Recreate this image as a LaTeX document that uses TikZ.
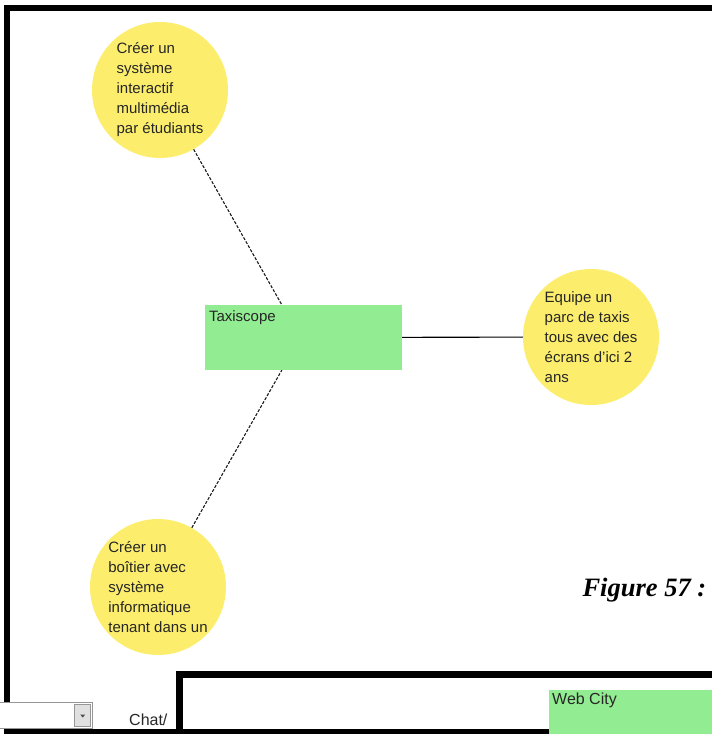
\documentclass[tikz,border=0pt]{standalone}
\usepackage{fontspec}
\setmainfont{Liberation Sans}
\newfontfamily\capfont{Liberation Serif}
\usetikzlibrary{calc, positioning}
\definecolor{bubble}{RGB}{252,238,108}
\definecolor{projectbox}{RGB}{146,236,146}
\definecolor{comboedge}{RGB}{150,150,150}

\begin{document}
\begin{tikzpicture}[x=1pt, y=-1pt,
    goal/.style={
        circle, fill=bubble, minimum size=136pt, inner sep=0pt,
        font=\fontsize{15}{20}\selectfont, align=left, text=black!85
    },
    project/.style={
        rectangle, fill=projectbox, inner sep=0pt
    },
    tag/.style={font=\fontsize{15}{18}\selectfont, text=black!85, inner sep=0pt},
    link/.style={draw=black!90, line width=1.1pt, dash pattern=on 3pt off 1.6pt},
    wire/.style={draw=black, line width=1.1pt},
    frame/.style={draw=black, line width=6pt}
]
\useasboundingbox (0,0) rectangle (712,734);
\clip (0,0) rectangle (712,734);

% Goals
\node[goal] (g1) at (160,90) {Créer un\\système\\interactif\\multimédia\\par étudiants};
\node[goal] (g2) at (591,337) {Equipe un\\parc de taxis\\tous avec des\\écrans d'ici 2\\ans};
\node[goal] (g3) at (158,587) {Créer un\\boîtier avec\\système\\informatique\\tenant dans un};

% Project
\node[project, minimum width=197pt, minimum height=65pt,
      label={[tag, anchor=north west, xshift=4pt, yshift=-6pt]north west:Taxiscope}]
      (taxi) at (303.5,337.5) {};

% Links
\coordinate (ptop) at ($(taxi.north west)!0.39!(taxi.north east)$);
\coordinate (pbot) at ($(taxi.south west)!0.39!(taxi.south east)$);
\draw[link] (g1) -- (ptop);
\draw[link] (g3) -- (pbot);
\draw[wire] (taxi) -- (g2);

% Caption
\node[anchor=base west, font=\capfont\bfseries\itshape\fontsize{26.5}{30}\selectfont]
      (fig) at (579,596) {Figure 57 :};

% Frames
\draw[frame] (6.5,7.5) rectangle (740,731.5);

% Selector
\node[draw=comboedge, fill=white, line width=1pt, anchor=north west,
      minimum width=96pt, minimum height=26pt, inner sep=0pt] (sel) at (-4,702) {};
\node[draw=comboedge, fill=black!12, line width=0.6pt, anchor=east,
      minimum width=16pt, minimum height=22pt, inner sep=0pt] (selbtn) at ($(sel.east)+(-2,0)$) {};
\fill[black!70] ($(selbtn.center)+(-2.5,-1)$) -- ++(5,0) -- ++(-2.5,3) -- cycle;
\node[tag, anchor=base west, font=\fontsize{16}{18}\selectfont] (chat) at (129,725) {Chat/};

\draw[frame, line width=7pt] (179,674) rectangle (760,780);

% Web City
\node[project, anchor=north west, minimum width=180pt, minimum height=60pt,
      label={[tag, anchor=north west, xshift=3pt, yshift=-3pt, font=\fontsize{16}{18}\selectfont]north west:Web City}]
      (web) at (549,690) {};

\end{tikzpicture}
\end{document}
